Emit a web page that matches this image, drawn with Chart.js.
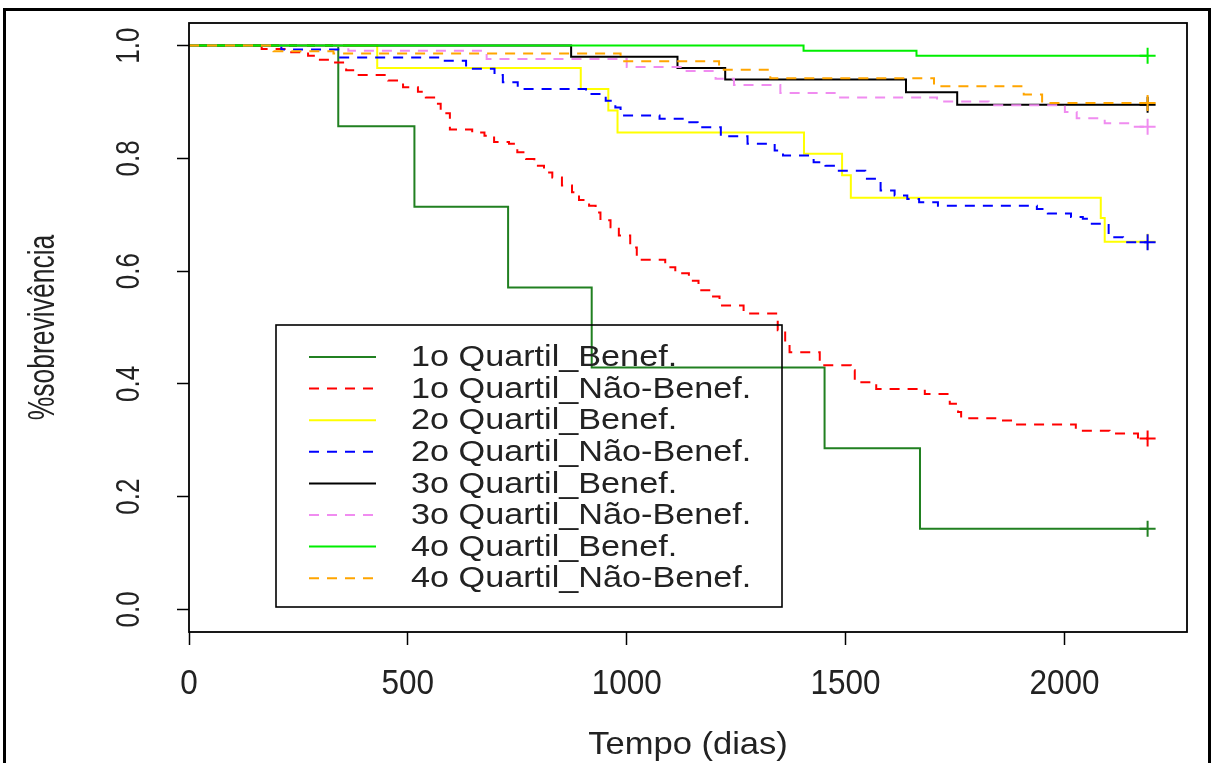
<!DOCTYPE html>
<html><head><meta charset="utf-8">
<script src="https://cdn.jsdelivr.net/npm/chart.js@4.4.1/dist/chart.umd.min.js"></script>
<style>html,body{margin:0;padding:0;background:#fff;}canvas{display:block;}</style>
</head><body>
<canvas id="c" width="1214" height="763"></canvas>
<script>
// ---------- data ----------
const seriesNames = ["1o Quartil_Benef.", "1o Quartil_Não-Benef.", "2o Quartil_Benef.", "2o Quartil_Não-Benef.",
  "3o Quartil_Benef.", "3o Quartil_Não-Benef.", "4o Quartil_Benef.", "4o Quartil_Não-Benef."];

const q1BenefT = [0, 341, 515, 729, 920, 1452, 1670, 2190];
const q1BenefS = [1, 0.857, 0.714, 0.571, 0.429, 0.286, 0.143, 0.143];

const q1NaoT = [0, 166, 230, 272, 291, 323, 359, 380, 455, 489, 523, 541, 560, 575, 596, 647, 675, 697, 731, 750, 770, 789, 811, 830, 852, 875, 891, 914, 929, 940, 963, 982, 1008, 1023, 1088, 1111, 1142, 1164, 1192, 1212, 1267, 1345, 1362, 1372, 1441, 1512, 1521, 1570, 1681, 1738, 1757, 1764, 1852, 1878, 2026, 2103, 2168, 2190];
const q1NaoS = [1, 0.994, 0.988, 0.982, 0.975, 0.970, 0.956, 0.948, 0.938, 0.926, 0.918, 0.908, 0.897, 0.880, 0.851, 0.846, 0.840, 0.829, 0.826, 0.811, 0.799, 0.787, 0.775, 0.766, 0.752, 0.740, 0.726, 0.716, 0.704, 0.690, 0.678, 0.663, 0.642, 0.620, 0.607, 0.596, 0.583, 0.566, 0.555, 0.539, 0.525, 0.495, 0.475, 0.456, 0.433, 0.424, 0.403, 0.391, 0.382, 0.365, 0.350, 0.339, 0.335, 0.328, 0.317, 0.312, 0.303, 0.303];

const q2BenefT = [0, 430, 895, 958, 979, 1405, 1492, 1512, 2083, 2092, 2190];
const q2BenefS = [1, 0.960, 0.923, 0.885, 0.846, 0.808, 0.770, 0.730, 0.694, 0.652, 0.652];

const q2NaoT = [0, 211, 341, 576, 633, 698, 717, 751, 907, 952, 974, 986, 1075, 1140, 1162, 1215, 1276, 1338, 1357, 1427, 1454, 1480, 1545, 1580, 1612, 1641, 1668, 1711, 1937, 1962, 2015, 2042, 2058, 2101, 2134, 2190];
const q2NaoS = [1, 0.993, 0.979, 0.973, 0.959, 0.948, 0.935, 0.923, 0.914, 0.902, 0.890, 0.876, 0.870, 0.864, 0.855, 0.839, 0.826, 0.814, 0.805, 0.793, 0.787, 0.778, 0.764, 0.743, 0.734, 0.728, 0.722, 0.716, 0.710, 0.702, 0.696, 0.693, 0.684, 0.660, 0.651, 0.651];

const q3BenefT = [0, 873, 1116, 1225, 1638, 1755, 2190];
const q3BenefS = [1, 0.980, 0.960, 0.940, 0.917, 0.895, 0.895];

const q3NaoT = [0, 364, 680, 1000, 1130, 1203, 1245, 1351, 1481, 1709, 1827, 2001, 2028, 2092, 2158, 2190];
const q3NaoS = [1, 0.991, 0.976, 0.962, 0.955, 0.941, 0.930, 0.916, 0.908, 0.901, 0.894, 0.882, 0.871, 0.862, 0.856, 0.856];

const q4BenefT = [0, 1404, 1662, 2190];
const q4BenefS = [1, 0.991, 0.982, 0.982];

const q4NaoT = [0, 193, 330, 986, 1211, 1328, 1702, 1907, 1949, 2190];
const q4NaoS = [1, 0.990, 0.986, 0.972, 0.957, 0.942, 0.928, 0.913, 0.898, 0.898];

const xTickValues = [0, 500, 1000, 1500, 2000];
const xTickLabels = ["0", "500", "1000", "1500", "2000"];
const yTickValues = [0, 0.2, 0.4, 0.6, 0.8, 1.0];
const yTickLabels = ["0.0", "0.2", "0.4", "0.6", "0.8", "1.0"];
const xTitle = "Tempo (dias)";
const yTitle = "%sobrevivência";

// ---------- styles ----------
const seriesTimes = [q1BenefT, q1NaoT, q2BenefT, q2NaoT, q3BenefT, q3NaoT, q4BenefT, q4NaoT];
const seriesSurv  = [q1BenefS, q1NaoS, q2BenefS, q2NaoS, q3BenefS, q3NaoS, q4BenefS, q4NaoS];
const seriesColors = ["#218021", "#ff0000", "#ffff00", "#0000ff", "#000000", "#f08cf0", "#00ee00", "#ffa500"];
const DASH = [10, 8];
const seriesDash = [[], DASH, [], DASH, [], DASH, [], DASH];
const FONT_FAMILY = '"Liberation Sans", Arial, sans-serif';

const datasets = seriesNames.map((name, i) => {
  const t = seriesTimes[i], s = seriesSurv[i];
  return {
    label: name,
    data: t.map((x, j) => ({x: x, y: s[j]})),
    stepped: 'before',
    borderColor: seriesColors[i],
    backgroundColor: seriesColors[i],
    borderWidth: 2,
    borderDash: seriesDash[i],
    borderCapStyle: 'butt',
    fill: false,
    tension: 0,
    pointStyle: 'cross',
    pointRadius: (c) => c.dataIndex === t.length - 1 ? 8 : 0,
    pointBorderColor: seriesColors[i],
    pointBorderWidth: 2,
    pointHoverRadius: 0,
    order: seriesNames.length - 1 - i
  };
});

const bgPlugin = {
  id: 'bg',
  beforeDraw(chart) {
    const ctx = chart.ctx;
    ctx.save(); ctx.fillStyle = '#fff'; ctx.fillRect(0, 0, chart.width, chart.height); ctx.restore();
  }
};

// text drawn with a local transform: size = font px, sx = stretch along text direction
function drawText(ctx, str, cx, cy, size, sx, rot, align) {
  ctx.save();
  ctx.translate(cx, cy);
  if (rot) ctx.rotate(rot);
  ctx.scale(sx, 1);
  ctx.font = size + 'px ' + FONT_FAMILY;
  ctx.textAlign = align; ctx.textBaseline = 'middle';
  ctx.fillText(str, 0, 0);
  ctx.restore();
}

const decorPlugin = {
  id: 'decor',
  afterDraw(chart) {
    const ctx = chart.ctx, a = chart.chartArea, xs = chart.scales.x, ys = chart.scales.y;
    ctx.save();
    ctx.setLineDash([]);
    ctx.strokeStyle = '#000';
    ctx.lineWidth = 1.8;
    ctx.strokeRect(a.left, a.top, a.right - a.left, a.bottom - a.top);
    ctx.lineWidth = 3;
    ctx.strokeRect(4.5, 9.5, 1205, 800);

    ctx.fillStyle = '#222';
    const V = -Math.PI / 2;
    xTickValues.forEach((v, i) => drawText(ctx, xTickLabels[i], xs.getPixelForValue(v), a.bottom + 52, 35, 0.9, 0, 'center'));
    yTickValues.forEach((v, i) => {
      ctx.save();
      ctx.translate(a.left - 59, ys.getPixelForValue(v));
      ctx.scale(1.3, 1);
      drawText(ctx, yTickLabels[i], 0, 0, 26, 1, V, 'center');
      ctx.restore();
    });
    drawText(ctx, xTitle, (a.left + a.right) / 2, a.bottom + 113, 32, 1.08, 0, 'center');
    ctx.save();
    ctx.translate(44, (a.top + a.bottom) / 2);
    ctx.scale(1.4, 1);
    drawText(ctx, yTitle, 0, 0, 26.5, 1, V, 'center');
    ctx.restore();

    // legend (transparent box, as in R)
    const lx = 276, ly = 325, lw = 506, lh = 282;
    ctx.lineWidth = 1.6; ctx.strokeStyle = '#000';
    ctx.strokeRect(lx, ly, lw, lh);
    seriesNames.forEach((name, i) => {
      const yy = 357 + i * 31.6;
      ctx.save();
      ctx.strokeStyle = seriesColors[i]; ctx.lineWidth = 2; ctx.lineCap = 'butt';
      ctx.setLineDash(seriesDash[i]);
      ctx.beginPath(); ctx.moveTo(309, yy); ctx.lineTo(376, yy); ctx.stroke();
      ctx.restore();
      drawText(ctx, name, 411, yy + 1, 30, 1.14, 0, 'left');
    });
    ctx.restore();
  }
};

new Chart(document.getElementById('c').getContext('2d'), {
  type: 'line',
  data: { datasets: datasets },
  options: {
    responsive: false,
    animation: false,
    events: [],
    layout: { padding: { left: 0, top: 23, right: 27, bottom: 0 } },
    plugins: { legend: { display: false }, tooltip: { enabled: false }, title: { display: false } },
    scales: {
      x: {
        type: 'linear', min: 0, max: 2280,
        afterBuildTicks: (s) => { s.ticks = xTickValues.map(v => ({ value: v })); },
        afterFit: (s) => { s.height = 131; },
        ticks: { display: false },
        grid: { display: true, drawOnChartArea: false, drawTicks: true, tickLength: 13, tickColor: '#000', tickWidth: 1.5 },
        border: { display: false }
      },
      y: {
        type: 'linear', min: -0.04, max: 1.04,
        afterBuildTicks: (s) => { s.ticks = yTickValues.map(v => ({ value: v })); },
        afterFit: (s) => { s.width = 189; },
        ticks: { display: false },
        grid: { display: true, drawOnChartArea: false, drawTicks: true, tickLength: 12, tickColor: '#000', tickWidth: 1.5 },
        border: { display: false }
      }
    }
  },
  plugins: [bgPlugin, decorPlugin]
});
</script>
</body></html>
